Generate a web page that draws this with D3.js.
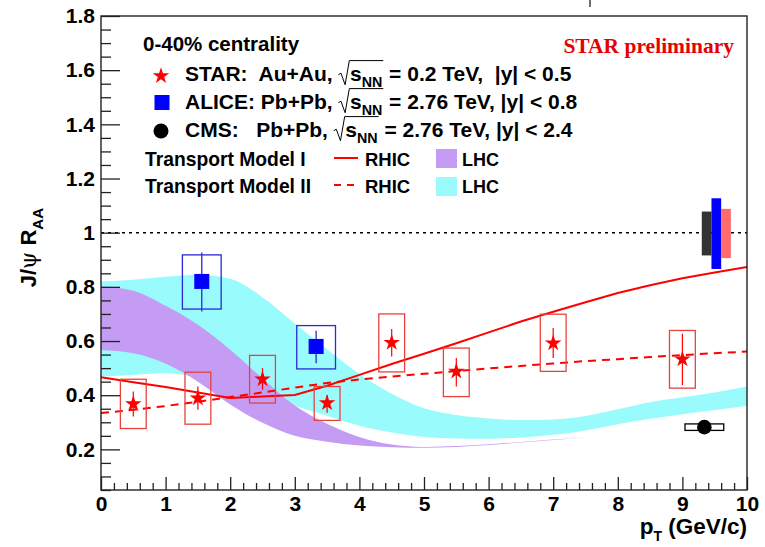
<!DOCTYPE html>
<html>
<head>
<meta charset="utf-8">
<script src="https://cdn.jsdelivr.net/npm/d3@7"></script>
<style>
body { margin: 0; background: #fff; }
text { font-family: "Liberation Sans", Arial, sans-serif; font-weight: bold; white-space: pre; }
</style>
</head>
<body>
<svg width="765" height="547"></svg>
<script>
// model curves (pT grid in GeV/c)
const modelPt = [0, 0.5, 1, 1.5, 2, 2.5, 3, 3.5, 4, 4.5, 5, 5.5, 6, 6.5, 7, 7.5, 8, 8.5, 9, 9.5, 10];
const model1Rhic = [0.466, 0.448, 0.430, 0.410, 0.390, 0.395, 0.401, 0.435, 0.475, 0.515, 0.553, 0.592, 0.632, 0.672, 0.708, 0.743, 0.777, 0.806, 0.832, 0.853, 0.873];
const model2Rhic = [0.334, 0.346, 0.360, 0.376, 0.393, 0.410, 0.428, 0.445, 0.458, 0.469, 0.479, 0.489, 0.499, 0.508, 0.517, 0.526, 0.533, 0.541, 0.548, 0.555, 0.561];
const model2LhcHi = [0.820, 0.826, 0.837, 0.845, 0.830, 0.762, 0.665, 0.570, 0.478, 0.405, 0.352, 0.327, 0.314, 0.308, 0.310, 0.323, 0.348, 0.374, 0.392, 0.410, 0.432];
const model2LhcLo = [0.469, 0.475, 0.482, 0.465, 0.435, 0.393, 0.360, 0.324, 0.287, 0.262, 0.246, 0.240, 0.239, 0.244, 0.254, 0.270, 0.293, 0.313, 0.330, 0.345, 0.361];
// model I LHC band stops at 7.5 GeV/c
const model1LhcPt = [0, 0.5, 1, 1.5, 2, 2.5, 3, 3.5, 4, 4.5, 5, 5.5, 6, 6.5, 7, 7.5];
const model1LhcHi = [0.801, 0.786, 0.730, 0.660, 0.568, 0.462, 0.362, 0.295, 0.246, 0.218, 0.209, 0.212, 0.219, 0.227, 0.236, 0.244];
const model1LhcLo = [0.567, 0.555, 0.517, 0.450, 0.366, 0.298, 0.250, 0.228, 0.214, 0.208, 0.206, 0.209, 0.216, 0.225, 0.235, 0.244];

// STAR Au+Au 0.2 TeV
const starPt = [0.5, 1.5, 2.5, 3.5, 4.5, 5.5, 7, 9];
const starVal = [0.368, 0.389, 0.459, 0.371, 0.594, 0.488, 0.592, 0.533];
const starStatLo = [0.321, 0.346, 0.420, 0.335, 0.543, 0.432, 0.537, 0.438];
const starStatHi = [0.414, 0.432, 0.500, 0.400, 0.644, 0.537, 0.648, 0.627];
const starSysLo = [0.277, 0.293, 0.371, 0.307, 0.486, 0.395, 0.488, 0.426];
const starSysHi = [0.459, 0.485, 0.547, 0.432, 0.700, 0.574, 0.699, 0.639];
const starBoxHalf = 0.2;

// ALICE Pb+Pb 2.76 TeV
const alicePt = [1.56, 3.33];
const aliceVal = [0.820, 0.580];
const aliceStatLo = [0.709, 0.518];
const aliceStatHi = [0.927, 0.638];
const aliceSysLo = [0.718, 0.497];
const aliceSysHi = [0.918, 0.657];
const aliceBoxHalf = 0.3;

// CMS Pb+Pb 2.76 TeV
const cmsPt = [9.34];
const cmsVal = [0.282];
const cmsSysLo = [0.270];
const cmsSysHi = [0.294];
const cmsBoxHalf = 0.3;

// global uncertainties drawn at unity
const globalNames = ["CMS", "ALICE", "STAR"];
const globalPtLo = [9.3, 9.45, 9.6];
const globalPtHi = [9.45, 9.6, 9.75];
const globalLo = [0.916, 0.866, 0.906];
const globalHi = [1.078, 1.127, 1.088];
const globalColor = ["#333333", "#0000ff", "#ff6b6b"];

const yTicks = [0.2, 0.4, 0.6, 0.8, 1, 1.2, 1.4, 1.6, 1.8];
const xTicks = [0, 1, 2, 3, 4, 5, 6, 7, 8, 9, 10];

const cyan = "#99fbfb", purple = "#c59cf3";
const starRed = "#ff0000", boxRed = "#e8423c";

const svg = d3.select("svg");
svg.append("rect").attr("width", 765).attr("height", 547).attr("fill", "#fff");

const x = d3.scaleLinear().domain([0, 10]).range([101, 747]);
const y = d3.scaleLinear().domain([0.05, 1.8]).range([490, 16]);

svg.append("clipPath").attr("id", "clip")
    .append("rect")
    .attr("x", x(0)).attr("y", y(1.8))
    .attr("width", x(10) - x(0)).attr("height", y(0.05) - y(1.8));

const plot = svg.append("g").attr("clip-path", "url(#clip)");

// bands
const band = d3.area()
    .x(d => x(d[0]))
    .y0(d => y(d[1]))
    .y1(d => y(d[2]))
    .curve(d3.curveMonotoneX);

plot.append("path")
    .attr("d", band(modelPt.map((p, i) => [p, model2LhcLo[i], model2LhcHi[i]])))
    .attr("fill", cyan);

plot.append("path")
    .attr("d", band(model1LhcPt.map((p, i) => [p, model1LhcLo[i], model1LhcHi[i]])))
    .attr("fill", purple);

// RHIC curves
const line = d3.line().x(d => x(d[0])).y(d => y(d[1]));

plot.append("path")
    .attr("d", line(modelPt.map((p, i) => [p, model1Rhic[i]])))
    .attr("fill", "none").attr("stroke", starRed).attr("stroke-width", 2);

plot.append("path")
    .attr("d", line(modelPt.map((p, i) => [p, model2Rhic[i]])))
    .attr("fill", "none").attr("stroke", starRed).attr("stroke-width", 2)
    .attr("stroke-dasharray", "8,6");

// unity line
plot.append("line")
    .attr("x1", x(0)).attr("x2", x(10))
    .attr("y1", y(1)).attr("y2", y(1))
    .attr("stroke", "#000").attr("stroke-width", 1.6)
    .attr("stroke-dasharray", "3,4");

// global uncertainty boxes
plot.selectAll(".glob")
    .data(globalNames)
    .enter().append("rect")
    .attr("class", "glob")
    .attr("x", (d, i) => x(globalPtLo[i]))
    .attr("width", (d, i) => x(globalPtHi[i]) - x(globalPtLo[i]))
    .attr("y", (d, i) => y(globalHi[i]))
    .attr("height", (d, i) => y(globalLo[i]) - y(globalHi[i]))
    .attr("fill", (d, i) => globalColor[i]);

// STAR points
const star = plot.append("g");
star.selectAll("rect")
    .data(starPt)
    .enter().append("rect")
    .attr("x", d => x(d - starBoxHalf))
    .attr("width", d => x(d + starBoxHalf) - x(d - starBoxHalf))
    .attr("y", (d, i) => y(starSysHi[i]))
    .attr("height", (d, i) => y(starSysLo[i]) - y(starSysHi[i]))
    .attr("fill", "none").attr("stroke", boxRed).attr("stroke-width", 1.3);
star.selectAll("line")
    .data(starPt)
    .enter().append("line")
    .attr("x1", d => x(d)).attr("x2", d => x(d))
    .attr("y1", (d, i) => y(starStatHi[i]))
    .attr("y2", (d, i) => y(starStatLo[i]))
    .attr("stroke", starRed).attr("stroke-width", 1.2);
star.selectAll("path")
    .data(starPt)
    .enter().append("path")
    .attr("d", d3.symbol(d3.symbolStar, 85))
    .attr("transform", (d, i) => `translate(${x(d)},${y(starVal[i])})`)
    .attr("fill", starRed);

// ALICE points
const alice = plot.append("g");
alice.selectAll("rect.sys")
    .data(alicePt)
    .enter().append("rect")
    .attr("class", "sys")
    .attr("x", d => x(d - aliceBoxHalf))
    .attr("width", d => x(d + aliceBoxHalf) - x(d - aliceBoxHalf))
    .attr("y", (d, i) => y(aliceSysHi[i]))
    .attr("height", (d, i) => y(aliceSysLo[i]) - y(aliceSysHi[i]))
    .attr("fill", "none").attr("stroke", "#2a2ad8").attr("stroke-width", 1.3);
alice.selectAll("line")
    .data(alicePt)
    .enter().append("line")
    .attr("x1", d => x(d)).attr("x2", d => x(d))
    .attr("y1", (d, i) => y(aliceStatHi[i]))
    .attr("y2", (d, i) => y(aliceStatLo[i]))
    .attr("stroke", "#2a2ad8").attr("stroke-width", 1.3);
alice.selectAll("rect.pt")
    .data(alicePt)
    .enter().append("rect")
    .attr("class", "pt")
    .attr("x", d => x(d) - 7.5).attr("y", (d, i) => y(aliceVal[i]) - 7.5)
    .attr("width", 15).attr("height", 15)
    .attr("fill", "#0000ff");

// CMS point
const cms = plot.append("g");
cms.selectAll("rect")
    .data(cmsPt)
    .enter().append("rect")
    .attr("x", d => x(d - cmsBoxHalf))
    .attr("width", d => x(d + cmsBoxHalf) - x(d - cmsBoxHalf))
    .attr("y", (d, i) => y(cmsSysHi[i]))
    .attr("height", (d, i) => y(cmsSysLo[i]) - y(cmsSysHi[i]))
    .attr("fill", "#fff").attr("stroke", "#000").attr("stroke-width", 1.3);
cms.selectAll("circle")
    .data(cmsPt)
    .enter().append("circle")
    .attr("cx", d => x(d)).attr("cy", (d, i) => y(cmsVal[i]))
    .attr("r", 7.3).attr("fill", "#000");

// axes, ticks pointing inwards like ROOT
const major = 0.2, yMinor = d3.range(0.05, 1.8001, 0.05).filter(v => Math.abs(v / major - Math.round(v / major)) > 1e-6);
const xMinor = d3.range(0, 10.001, 0.2).filter(v => Math.abs(v - Math.round(v)) > 1e-6);

const axisStyle = g => {
    g.select(".domain").remove();
    g.selectAll("line").attr("stroke", "#222").attr("stroke-width", 1.3);
    g.selectAll("text").style("font-size", "21px").attr("fill", "#000");
};

svg.append("g")
    .attr("transform", `translate(${x(0)},0)`)
    .call(d3.axisLeft(y).tickValues(yMinor).tickSize(-10).tickFormat(""))
    .call(axisStyle);
svg.append("g")
    .attr("transform", `translate(${x(0)},0)`)
    .call(d3.axisLeft(y).tickValues(yTicks).tickSize(-19).tickPadding(6)
        .tickFormat(d => d === 1 ? "1" : d3.format(".1f")(d)))
    .call(axisStyle);
svg.append("g")
    .attr("transform", `translate(0,${y(0.05)})`)
    .call(d3.axisBottom(x).tickValues(xMinor).tickSize(-7).tickFormat(""))
    .call(axisStyle);
svg.append("g")
    .attr("transform", `translate(0,${y(0.05)})`)
    .call(d3.axisBottom(x).tickValues(xTicks).tickSize(-13).tickPadding(6))
    .call(axisStyle);

svg.append("rect")
    .attr("x", x(0)).attr("y", y(1.8))
    .attr("width", x(10) - x(0)).attr("height", y(0.05) - y(1.8))
    .attr("fill", "none").attr("stroke", "#222").attr("stroke-width", 1.4);

// axis titles
svg.append("text")
    .attr("x", 747).attr("y", 534)
    .attr("text-anchor", "end")
    .style("font-size", "22.5px")
    .call(t => {
        t.append("tspan").text("p");
        t.append("tspan").attr("dy", 7).style("font-size", "14px").text("T");
        t.append("tspan").attr("dy", -7).text(" (GeV/c)");
    });

svg.append("text")
    .attr("transform", "translate(36,208) rotate(-90)")
    .attr("text-anchor", "end")
    .style("font-size", "22px")
    .call(t => {
        t.append("tspan").text("J/");
        t.append("tspan").style("font-family", "'DejaVu Serif', serif")
            .style("font-weight", "normal").text("ψ");
        t.append("tspan").text(" R");
        t.append("tspan").attr("dy", 7).style("font-size", "15px").text("AA");
    });

// small mark at top edge
svg.append("line").attr("x1", 590).attr("x2", 590).attr("y1", 0).attr("y2", 7)
    .attr("stroke", "#222").attr("stroke-width", 1.3);

// legend
const leg = svg.append("g");

function richLine(x0, yb, size, parts) {
    let cx = x0;
    parts.forEach(p => {
        if (p === "SQRT") {
            const rx = cx;
            cx += size * 0.55;
            const s = leg.append("text").attr("x", cx).attr("y", yb).style("font-size", size + "px").text("s");
            cx += s.node().getComputedTextLength();
            const nn = leg.append("text").attr("x", cx).attr("y", yb + size * 0.3)
                .style("font-size", (size * 0.68) + "px").text("NN");
            cx += nn.node().getComputedTextLength() + 1;
            leg.append("path")
                .attr("d", `M${rx},${yb - size * 0.3}l2.5,-1.5l${size * 0.2},${size * 0.55}l${size * 0.2},${-size * 1.15}H${cx}`)
                .attr("fill", "none").attr("stroke", "#000").attr("stroke-width", 1);
        } else {
            const t = leg.append("text").attr("x", cx).attr("y", yb).style("font-size", size + "px").text(p);
            cx += t.node().getComputedTextLength();
        }
    });
}

leg.append("text").attr("x", 143).attr("y", 51).style("font-size", "20.5px").text("0-40% centrality");

leg.append("path").attr("d", d3.symbol(d3.symbolStar, 85)).attr("transform", "translate(161,76)").attr("fill", starRed);
richLine(185, 81, 21, ["STAR:  Au+Au, ", "SQRT", " = 0.2 TeV,  |y| < 0.5"]);

leg.append("rect").attr("x", 154.5).attr("y", 95).attr("width", 15).attr("height", 15).attr("fill", "#0000ff");
richLine(185, 109, 21, ["ALICE: Pb+Pb, ", "SQRT", " = 2.76 TeV, |y| < 0.8"]);

leg.append("circle").attr("cx", 161).attr("cy", 131).attr("r", 7.5).attr("fill", "#000");
richLine(185, 137, 21, ["CMS:   Pb+Pb, ", "SQRT", " = 2.76 TeV, |y| < 2.4"]);

leg.append("text").attr("x", 145).attr("y", 166).style("font-size", "19.3px").text("Transport Model I");
leg.append("text").attr("x", 145).attr("y", 193).style("font-size", "19.3px").text("Transport Model II");
leg.append("line").attr("x1", 334).attr("x2", 358).attr("y1", 158).attr("y2", 158)
    .attr("stroke", starRed).attr("stroke-width", 2);
leg.append("line").attr("x1", 334).attr("x2", 358).attr("y1", 185).attr("y2", 185)
    .attr("stroke", starRed).attr("stroke-width", 2).attr("stroke-dasharray", "7,6");
leg.append("text").attr("x", 365).attr("y", 166).style("font-size", "18.5px").text("RHIC");
leg.append("text").attr("x", 365).attr("y", 193).style("font-size", "18.5px").text("RHIC");
leg.append("rect").attr("x", 436).attr("y", 149).attr("width", 21).attr("height", 19).attr("fill", purple);
leg.append("rect").attr("x", 436).attr("y", 177).attr("width", 21).attr("height", 19).attr("fill", cyan);
leg.append("text").attr("x", 462).attr("y", 166).style("font-size", "18px").text("LHC");
leg.append("text").attr("x", 462).attr("y", 193).style("font-size", "18px").text("LHC");

svg.append("text")
    .attr("x", 734).attr("y", 53)
    .attr("text-anchor", "end")
    .style("font-family", "'Liberation Serif', 'Times New Roman', serif")
    .style("font-size", "21.5px")
    .attr("fill", "#e60000")
    .text("STAR preliminary");
</script>
</body>
</html>
